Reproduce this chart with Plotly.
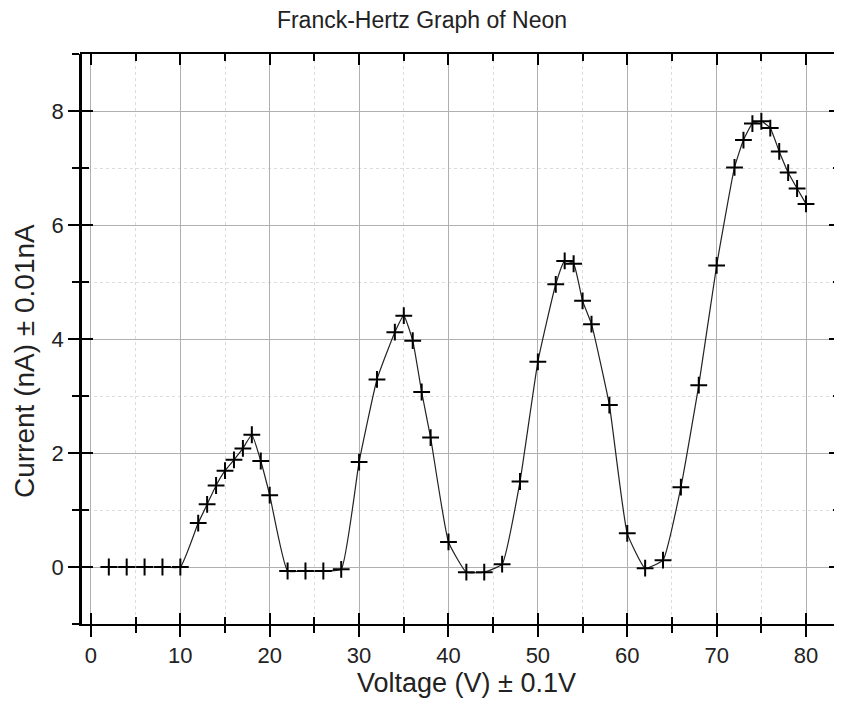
import plotly.graph_objects as go

voltage = [2, 4, 6, 8, 10, 12, 13, 14, 15, 16, 17, 18, 19, 20, 22, 24, 26, 28,
           30, 32, 34, 35, 36, 37, 38, 40, 42, 44, 46, 48, 50, 52, 53, 54, 55, 56,
           58, 60, 62, 64, 66, 68, 70, 72, 73, 74, 75, 76, 77, 78, 79, 80]
current = [0, 0, 0, 0, 0, 0.77, 1.10, 1.43, 1.69, 1.88, 2.08, 2.32, 1.86, 1.26,
           -0.07, -0.07, -0.07, -0.04, 1.84, 3.29, 4.12, 4.41, 3.97, 3.07, 2.27,
           0.44, -0.09, -0.09, 0.05, 1.50, 3.60, 4.96, 5.37, 5.32, 4.67, 4.26,
           2.84, 0.59, -0.02, 0.12, 1.40, 3.19, 5.29, 7.01, 7.49, 7.78, 7.82,
           7.70, 7.29, 6.92, 6.64, 6.37]

x_range = [-1.0, 83.8]
y_range = [-1.0, 9.0]
x_ticks = [0, 10, 20, 30, 40, 50, 60, 70, 80]
y_ticks = [0, 2, 4, 6, 8]

FONT = "Liberation Sans, Arial, sans-serif"
TXT = "#222222"

W, H = 834, 695
ML, MR, MT, MB = 74, 2, 46, 79
PW, PH = W - ML - MR, H - MT - MB

fig = go.Figure()
fig.add_trace(go.Scatter(
    x=voltage, y=current, mode="lines+markers",
    line=dict(color="#222222", width=1.2, shape="spline", smoothing=0.4),
    marker=dict(symbol="cross-thin", size=12, line=dict(color="black", width=2)),
    showlegend=False,
))
# invisible helper trace so the inner-tick axes are drawn
fig.add_trace(go.Scatter(
    x=voltage, y=current, mode="lines", xaxis="x2", yaxis="y2",
    line=dict(color="rgba(0,0,0,0)"), hoverinfo="skip", showlegend=False,
))

common_major = dict(showgrid=True, gridcolor="#b0b0b0", gridwidth=1.2, zeroline=False,
                    automargin=False)

fig.update_layout(
    width=W, height=H,
    margin=dict(l=ML, r=MR, t=MT, b=MB),
    paper_bgcolor="white", plot_bgcolor="white",
    title=dict(text="Franck-Hertz Graph of Neon", x=414 / W, xref="container", xanchor="center",
               y=1 - 12 / H, yref="container", yanchor="middle",
               font=dict(family=FONT, size=23, color=TXT)),
    xaxis=dict(
        range=x_range, tickvals=x_ticks, ticks="outside", ticklen=11, tickwidth=2,
        tickcolor="black", showline=True, linecolor="black", linewidth=2,
        minor=dict(dtick=5, ticks="outside", ticklen=7, tickwidth=1.5, tickcolor="black",
                   showgrid=True, gridcolor="#dcdcdc", griddash="dot", gridwidth=1),
        tickfont=dict(family=FONT, size=22, color=TXT),
        **common_major,
    ),
    yaxis=dict(
        range=y_range, tickvals=y_ticks, ticks="outside", ticklen=11, tickwidth=2,
        tickcolor="black", showline=True, linecolor="black", linewidth=2.5,
        minor=dict(dtick=1, ticks="outside", ticklen=7, tickwidth=1.5, tickcolor="black",
                   showgrid=True, gridcolor="#dcdcdc", griddash="dot", gridwidth=1),
        tickfont=dict(family=FONT, size=22, color=TXT),
        **common_major,
    ),
    xaxis2=dict(
        range=x_range, overlaying="x", side="bottom", tickvals=x_ticks, ticks="inside",
        ticklen=11, tickwidth=2, tickcolor="black", showticklabels=False,
        showline=True, linecolor="black", linewidth=2, mirror="ticks",
        minor=dict(dtick=5, ticks="inside", ticklen=7, tickwidth=1.5, tickcolor="black"),
        showgrid=False, zeroline=False, automargin=False,
    ),
    yaxis2=dict(
        range=y_range, overlaying="y", side="left", tickvals=y_ticks, ticks="inside",
        ticklen=11, tickwidth=2, tickcolor="black", showticklabels=False,
        showline=True, linecolor="black", linewidth=2, mirror="ticks",
        minor=dict(dtick=1, ticks="inside", ticklen=7, tickwidth=1.5, tickcolor="black"),
        showgrid=False, zeroline=False, automargin=False,
    ),
    annotations=[
        dict(text="Voltage (V) ± 0.1V", xref="paper", yref="paper", x=(466 - 82) / PW,
             y=-59 / PH, xanchor="center", yanchor="middle", showarrow=False,
             font=dict(family=FONT, size=27, color=TXT)),
        dict(text="Current (nA) ± 0.01nA", xref="paper", yref="paper", x=(24 - 82) / PW,
             y=(624 - 361) / PH, xanchor="center", yanchor="middle", textangle=-90,
             showarrow=False, font=dict(family=FONT, size=28, color=TXT)),
    ],
)

fig.write_html("out.html")
